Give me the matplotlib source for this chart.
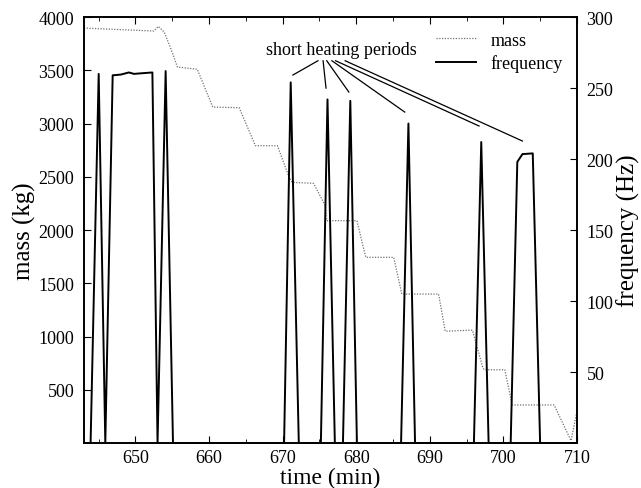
import matplotlib
matplotlib.use("Agg")
import matplotlib.pyplot as plt
import matplotlib.ticker as mticker

# mass (kg)
mass_time = [643.0, 652.5, 653.1, 653.9, 654.9, 655.7, 658.4, 660.5, 664.1, 666.3,
             669.3, 670.8, 671.3, 674.2, 675.8, 676.0, 680.1, 681.3, 685.1, 686.2,
             691.2, 692.1, 695.8, 697.2, 697.4, 700.2, 701.2, 706.9, 709.2, 710.0]
mass_kg = [3897, 3869, 3913, 3860, 3687, 3531, 3510, 3155, 3149, 2792,
           2792, 2510, 2448, 2439, 2229, 2088, 2088, 1744, 1744, 1399,
           1399, 1050, 1060, 711, 688, 688, 357, 357, 22, 294]

# frequency (Hz)
freq_time = [643.0, 643.9, 645.0, 645.9, 646.9, 648.0, 649.1, 649.8, 651.0, 652.3,
             653.0, 654.1, 655.1, 670.2, 671.1, 672.2, 675.2, 676.1, 677.1, 678.2,
             679.2, 680.1, 686.1, 687.1, 688.0, 696.0, 697.0, 698.0, 701.0, 701.9,
             702.6, 704.0, 705.0, 710.0]
freq_hz = [0, 0, 260, 0, 259, 259.5, 261, 260, 260.5, 261,
           0, 262, 0, 0, 254, 0, 0, 242, 0, 0,
           241, 0, 0, 225, 0, 0, 212, 0, 0, 198,
           203.5, 204, 0, 0]

# annotation: label anchor and the tips of the pointer lines (time, mass-axis units)
note_text = "short heating periods"
note_starts = [674.8, 675.5, 676.0, 676.7, 677.2, 678.5]
note_start_y = 3590
note_ends = [(671.4, 3456), (675.9, 3333), (679.0, 3296),
             (686.6, 3108), (696.7, 2977), (702.6, 2836)]

plt.rcParams["font.family"] = ["Liberation Serif", "DejaVu Serif"]

fig = plt.figure(figsize=(6.41, 4.89), dpi=100)
ax = fig.add_axes([0.131, 0.092, 0.769, 0.871])
ax2 = ax.twinx()

l_mass, = ax.plot(mass_time, mass_kg, color="#707070", linestyle=(0, (1, 1.2)),
                  linewidth=0.9, label="mass")
l_freq, = ax2.plot(freq_time, freq_hz, color="black", linewidth=1.4,
                   label="frequency", clip_on=False)

ax.set_xlim(643, 710)
ax.set_ylim(0, 4000)
ax2.set_ylim(0, 300)

ax.xaxis.set_major_locator(mticker.MultipleLocator(10))
ax.xaxis.set_minor_locator(mticker.MultipleLocator(5))
ax.set_yticks([500, 1000, 1500, 2000, 2500, 3000, 3500, 4000])
ax2.set_yticks([50, 100, 150, 200, 250, 300])

ax.tick_params(axis="both", which="both", direction="in", labelsize=13, top=True)
ax.tick_params(axis="y", right=False, pad=7)
ax.tick_params(axis="x", pad=4)
ax.tick_params(which="major", length=5)
ax.tick_params(which="minor", length=3)
ax2.tick_params(axis="y", direction="in", labelsize=13, length=5, pad=7)

for a in (ax, ax2):
    for s in a.spines.values():
        s.set_linewidth(1.2)

ax.set_xlabel("time (min)", fontsize=17, va="center")
ax.xaxis.set_label_coords(0.5, -0.081)
ax.set_ylabel("mass (kg)", fontsize=18, labelpad=2)
ax2.set_ylabel("frequency (Hz)", fontsize=18, labelpad=2)

ax.text(678.0, 3700, note_text, fontsize=13, ha="center", va="center")
for xs, (xe, ye) in zip(note_starts, note_ends):
    ax.plot([xs, xe], [note_start_y, ye], color="black", linewidth=0.9)

ax.legend([l_mass, l_freq], ["mass", "frequency"], loc="upper right",
          frameon=False, fontsize=13, handlelength=2.2, handletextpad=0.8,
          borderaxespad=0.4, labelspacing=0.3)

fig.savefig("out.png", dpi=100)
